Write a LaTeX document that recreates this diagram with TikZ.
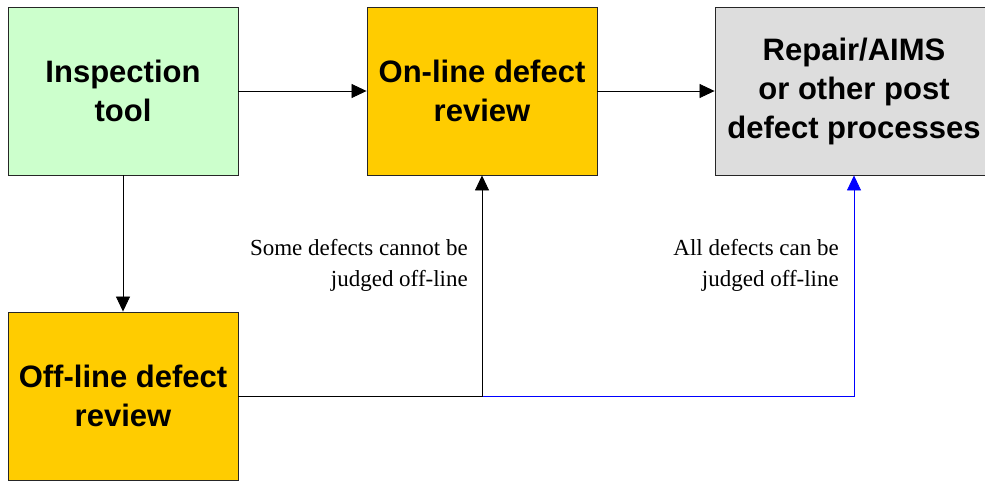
\documentclass[tikz,border=0pt]{standalone}
\usepackage{fontspec}
\setmainfont{Liberation Serif}
\newfontfamily\boxfont{Liberation Sans}
\usetikzlibrary{arrows.meta}
\definecolor{toolgreen}{HTML}{CCFFCC}
\definecolor{reviewgold}{HTML}{FFCC00}
\definecolor{postgray}{HTML}{DDDDDD}
\tikzset{
  stagebox/.style={draw=black!85, line width=0.9pt, minimum width=230pt, minimum height=168pt,
    inner sep=0pt, align=center, text=black,
    font=\boxfont\bfseries\fontsize{31}{39}\selectfont},
  note/.style={anchor=east, align=right, inner sep=0pt,
    font=\fontsize{23}{31}\selectfont},
  flow/.style={line width=0.8pt, -{Triangle[length=15pt,width=14pt]}},
}
\begin{document}
\begin{tikzpicture}[x=1pt,y=-1pt]
\useasboundingbox (0,0) rectangle (985,480);
\node[stagebox, fill=toolgreen] (insp) at (123,91) {Inspection\\tool};
\node[stagebox, fill=reviewgold] (online) at (482,91) {On-line defect\\review};
\node[stagebox, fill=postgray, minimum width=278pt] (repair) at (854,91) {Repair/AIMS\\or other post\\defect processes};
\node[stagebox, fill=reviewgold] (offline) at (123,396) {Off-line defect\\review};

\node[note] (someNote) at (468,265) {Some defects cannot be\\judged off-line};
\node[note] (allNote) at (839,265) {All defects can be\\judged off-line};

\draw[flow] (insp.east) -- (online.west);
\draw[flow] (online.east) -- (repair.west);
\draw[flow] (insp.south) -- (offline.north);
\coordinate (split) at (offline.east -| online.south);
\draw[flow, blue] (split) -| (repair.south);
\draw[flow] (offline.east) -| (online.south);
\end{tikzpicture}
\end{document}
